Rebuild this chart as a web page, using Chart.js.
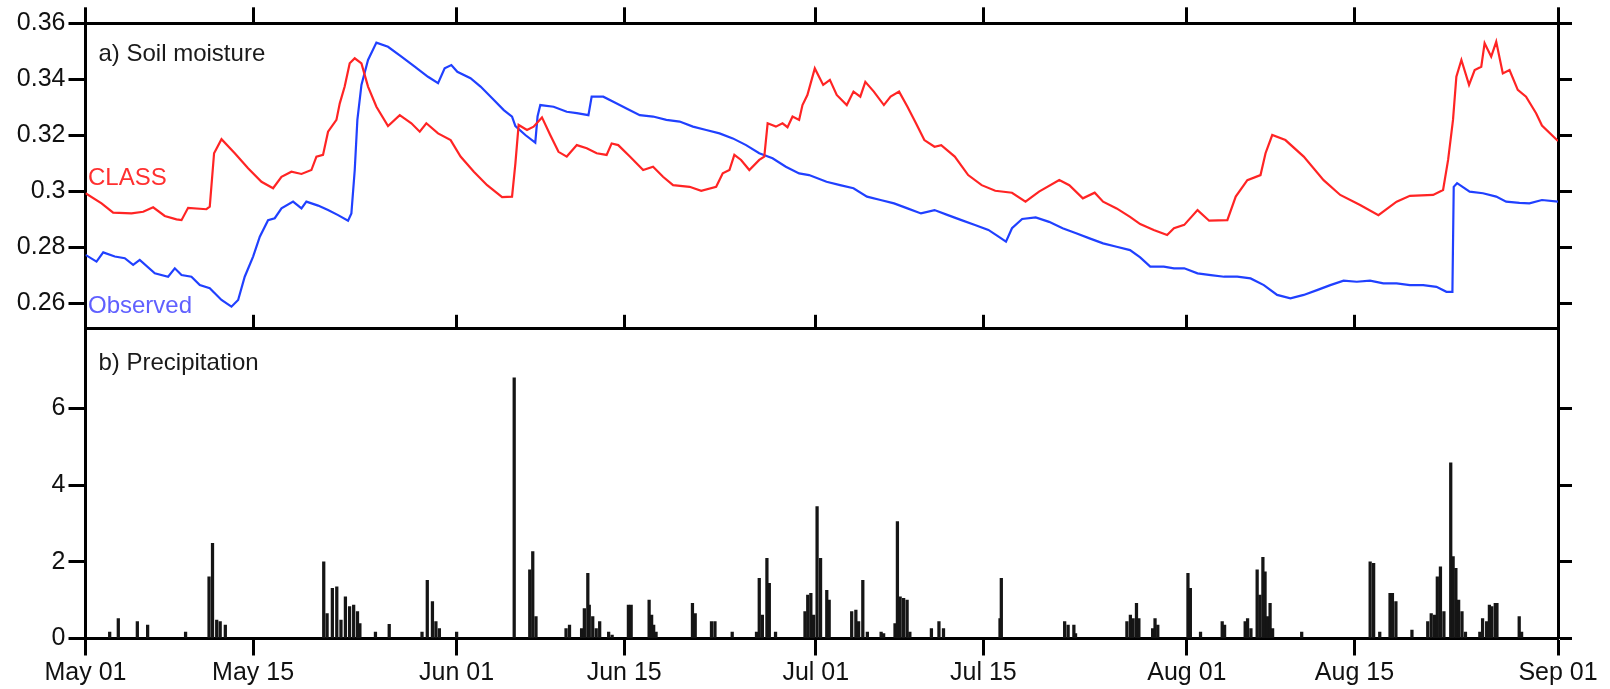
<!DOCTYPE html>
<html>
<head>
<meta charset="utf-8">
<title>Soil moisture and precipitation</title>
<script src="https://cdn.jsdelivr.net/npm/chart.js@4.4.1/dist/chart.umd.min.js"></script>
<style>
  html, body { margin: 0; padding: 0; background: #fff; }
  #wrap { position: relative; width: 1610px; height: 689px; }
  #wrap canvas { position: absolute; left: 0; top: 0; }
</style>
</head>
<body>
<div id="wrap">
  <canvas id="soilChart" width="1610" height="689"></canvas>
  <canvas id="precipChart" width="1610" height="689"></canvas>
</div>
<script>
// x values are days counted from May 01
const dateTickDays = [0, 14, 31, 45, 61, 75, 92, 106, 123];
const dateTickLabels = ["May 01", "May 15", "Jun 01", "Jun 15", "Jul 01", "Jul 15", "Aug 01", "Aug 15", "Sep 01"];

const soilTicks = [0.26, 0.28, 0.30, 0.32, 0.34, 0.36];
const soilTickLabels = ["0.26", "0.28", "0.3", "0.32", "0.34", "0.36"];
const precipTicks = [0, 2, 4, 6];
const precipTickLabels = ["0", "2", "4", "6"];

// a) Soil moisture, [day, value]
const classSoil = [
  [0,0.2993],[1.34,0.2957],[2.31,0.2924],[3.84,0.2921],[4.82,0.2927],[5.65,0.2943],[6.62,0.2912],[7.6,0.29],
  [8.02,0.2897],[8.57,0.2941],[10.1,0.2936],[10.38,0.2945],[10.74,0.3136],[11.36,0.3186],[12.47,0.3136],
  [13.58,0.3082],[14.7,0.3034],[15.67,0.3011],[16.37,0.3052],[17.2,0.307],[18.04,0.3062],[18.87,0.3076],
  [19.29,0.3124],[19.84,0.313],[20.26,0.3213],[20.96,0.3255],[21.24,0.3314],[21.65,0.3374],[22.07,0.3457],
  [22.49,0.3475],[23.05,0.3457],[23.6,0.3374],[24.3,0.3302],[25.27,0.3233],[26.25,0.3272],[27.22,0.3243],
  [27.92,0.3213],[28.47,0.3243],[29.45,0.3207],[30.5,0.3183],[31.33,0.3124],[32.44,0.307],[33.55,0.3022],
  [34.8,0.2979],[35.63,0.2981],[35.91,0.31],[36.18,0.3237],[36.88,0.3219],[37.43,0.3231],[38.13,0.3264],
  [38.82,0.3201],[39.51,0.3141],[40.2,0.3124],[41.04,0.3165],[41.87,0.3154],[42.7,0.3136],[43.53,0.313],
  [43.95,0.3171],[44.5,0.3165],[45.47,0.3124],[46.58,0.3076],[47.41,0.3088],[48.24,0.3052],[49.08,0.3022],
  [50.46,0.3016],[51.43,0.3002],[52.68,0.3016],[53.23,0.3064],[53.79,0.3076],[54.2,0.313],[54.76,0.3112],
  [55.45,0.3076],[56.28,0.3112],[56.7,0.3124],[56.98,0.3243],[57.67,0.3231],[58.22,0.3243],[58.64,0.3229],
  [59.06,0.3267],[59.61,0.3255],[59.89,0.3308],[60.3,0.3344],[60.92,0.3439],[61.62,0.338],[62.18,0.3398],
  [62.75,0.3344],[63.59,0.3308],[64.15,0.3356],[64.72,0.3338],[65.14,0.3391],[65.85,0.3356],[66.69,0.3308],
  [67.25,0.3338],[67.96,0.3356],[68.66,0.3302],[69.37,0.3243],[70.07,0.3183],[70.92,0.3159],[71.48,0.3165],
  [72.61,0.3124],[73.73,0.3058],[74.86,0.3022],[75.99,0.3002],[77.39,0.2995],[78.52,0.2963],[79.65,0.2999],
  [81.34,0.304],[82.18,0.3022],[83.31,0.2975],[84.3,0.2995],[85,0.2963],[86.13,0.2939],[87.25,0.2909],
  [88.1,0.2883],[89.23,0.2862],[90.35,0.2844],[90.92,0.2868],[91.78,0.288],[92.89,0.2933],[93.86,0.2895],
  [95.38,0.2897],[96.08,0.2981],[97.05,0.304],[98.15,0.3058],[98.57,0.3136],[99.13,0.3201],[100.23,0.3183],
  [101.76,0.3124],[103.42,0.304],[104.81,0.2987],[106.47,0.2951],[108,0.2915],[109.52,0.2963],[110.63,0.2984],
  [112.57,0.2987],[113.4,0.3005],[113.82,0.3112],[114.23,0.3255],[114.51,0.3409],[114.93,0.3469],[115.57,0.338],
  [116.04,0.3433],[116.59,0.3445],[116.87,0.3529],[117.42,0.3481],[117.84,0.3534],[118.39,0.3421],[118.95,0.3433],
  [119.64,0.3362],[120.33,0.3338],[121.17,0.3279],[121.66,0.3235],[123,0.318]
];

const observedSoil = [
  [0,0.2773],[0.92,0.2749],[1.48,0.2782],[2.45,0.2767],[3.28,0.2761],[3.98,0.2737],[4.53,0.2755],[5.79,0.2707],
  [6.9,0.2695],[7.46,0.2725],[8.02,0.2701],[8.85,0.2695],[9.55,0.2665],[10.38,0.2654],[11.36,0.2612],
  [12.19,0.2588],[12.75,0.2612],[13.3,0.2695],[14,0.2767],[14.56,0.2838],[15.25,0.2897],[15.81,0.2904],
  [16.37,0.2939],[17.34,0.2963],[18.04,0.2939],[18.45,0.2963],[19.43,0.2949],[20.26,0.2933],[21.1,0.2915],
  [21.93,0.2895],[22.21,0.2921],[22.49,0.3076],[22.71,0.3255],[23.05,0.338],[23.6,0.3469],[24.3,0.3531],
  [25.27,0.3516],[26.39,0.3481],[27.5,0.3445],[28.61,0.3409],[29.45,0.3386],[30,0.3439],[30.56,0.3451],
  [31.06,0.3427],[32.16,0.3404],[33,0.3374],[33.97,0.3332],[34.94,0.329],[35.63,0.3267],[35.91,0.3233],
  [36.74,0.3201],[37.57,0.3174],[37.76,0.3267],[37.99,0.3308],[39.1,0.3302],[40.2,0.3284],[41.04,0.3279],
  [42.01,0.3272],[42.28,0.3338],[43.25,0.3338],[44.09,0.332],[45.19,0.3296],[46.3,0.3272],[47.41,0.3267],
  [48.52,0.3255],[49.63,0.3249],[50.74,0.3231],[51.85,0.3219],[52.96,0.3207],[54.07,0.3189],[55.18,0.3165],
  [56.28,0.3136],[57.39,0.3118],[58.5,0.3088],[59.61,0.3064],[60.44,0.3058],[61.9,0.3034],[63.03,0.3022],
  [64.15,0.3011],[65.28,0.2981],[66.41,0.2969],[67.54,0.2957],[68.66,0.2939],[69.79,0.2921],[70.92,0.2933],
  [72.04,0.2915],[73.17,0.2897],[74.3,0.288],[75.42,0.2862],[76.27,0.2838],[76.89,0.282],[77.39,0.2868],
  [78.24,0.2901],[79.37,0.2907],[80.49,0.2891],[81.62,0.2868],[82.75,0.285],[83.87,0.2832],[85,0.2814],
  [86.13,0.2802],[87.25,0.279],[88.1,0.2764],[88.94,0.2731],[90.07,0.2731],[90.92,0.2725],[91.78,0.2725],
  [92.89,0.2707],[94,0.2701],[95.11,0.2695],[96.21,0.2695],[97.32,0.2689],[98.43,0.2665],[99.54,0.263],
  [100.65,0.2618],[101.76,0.263],[102.87,0.2647],[103.98,0.2665],[105.09,0.2681],[106.19,0.2677],[107.3,0.2681],
  [108.41,0.2671],[109.52,0.2671],[110.63,0.2665],[111.74,0.2665],[112.85,0.2659],[113.68,0.2641],[114.18,0.2641],
  [114.29,0.3016],[114.57,0.3029],[115.62,0.2999],[116.73,0.2993],[117.84,0.2981],[118.67,0.2963],[119.78,0.2959],
  [120.61,0.2957],[121.66,0.2969],[123,0.2963]
];

// b) Precipitation, [day, amount]
const precip = [
  [2.02,0.17],[2.74,0.52],[4.33,0.44],[5.19,0.35],[8.36,0.17],[10.32,1.61],[10.61,2.48],[10.96,0.48],
  [11.25,0.44],[11.68,0.35],[19.9,2.0],[20.18,0.65],[20.62,1.31],[20.99,1.35],[21.34,0.48],[21.71,1.09],
  [22.06,0.83],[22.4,0.87],[22.72,0.7],[22.92,0.39],[24.22,0.17],[25.37,0.37],[28.11,0.17],[28.55,1.52],
  [28.98,0.96],[29.27,0.44],[29.56,0.26],[31.0,0.17],[35.81,6.8],[37.11,1.79],[37.36,2.27],[37.63,0.57],
  [40.14,0.26],[40.43,0.35],[41.44,0.26],[41.67,0.78],[41.96,1.7],[42.08,0.87],[42.37,0.57],[42.66,0.26],
  [42.95,0.44],[43.7,0.17],[43.99,0.09],[45.35,0.87],[45.58,0.87],[47.08,1.0],[47.29,0.61],[47.46,0.35],
  [47.66,0.17],[50.7,0.92],[50.93,0.65],[52.29,0.44],[52.58,0.44],[54.02,0.17],[56.05,0.17],[56.28,1.57],
  [56.54,0.61],[56.92,2.09],[57.12,1.44],[57.64,0.17],[60.1,0.7],[60.33,1.13],[60.59,1.18],[60.82,0.61],
  [61.11,3.44],[61.4,2.09],[61.92,1.26],[62.12,1.0],[64.0,0.7],[64.35,0.74],[64.58,0.44],[64.93,1.52],
  [65.31,0.17],[66.46,0.17],[66.67,0.13],[67.62,0.39],[67.82,3.05],[68.05,1.09],[68.34,1.05],[68.63,1.0],
  [68.86,0.17],[70.66,0.26],[71.29,0.44],[71.67,0.26],[76.39,0.52],[76.5,1.57],[81.79,0.44],[82.08,0.35],
  [82.56,0.35],[82.7,0.13],[86.99,0.44],[87.28,0.61],[87.51,0.52],[87.79,0.92],[87.99,0.52],[89.14,0.26],
  [89.34,0.52],[89.57,0.35],[92.09,1.7],[92.29,1.31],[93.14,0.17],[94.95,0.44],[95.15,0.35],[96.87,0.44],
  [97.07,0.52],[97.35,0.26],[97.87,1.79],[98.1,1.13],[98.35,2.12],[98.53,1.74],[98.73,0.57],[98.95,0.92],
  [99.16,0.26],[101.59,0.17],[107.31,2.0],[107.6,1.96],[108.11,0.17],[108.97,1.18],[109.17,1.18],[109.46,0.96],
  [110.8,0.22],[112.12,0.44],[112.41,0.65],[112.69,0.61],[112.92,1.61],[113.18,1.87],[113.47,0.7],[114.04,4.58],
  [114.24,2.14],[114.47,1.83],[114.7,1.0],[114.98,0.7],[115.27,0.17],[116.47,0.17],[116.7,0.52],[117.04,0.44],
  [117.27,0.87],[117.47,0.83],[117.76,0.92],[117.9,0.92],[119.76,0.57],[119.96,0.17]
];

// page layout in pixels
const areaLeft = 85.5;
const areaRight = 1558;
const soilTop = 23.3;
const panelSplit = 328.8;
const precipBottom = 638.5;

Chart.defaults.font.family = '"Liberation Sans", Arial, Helvetica, sans-serif';
Chart.defaults.color = "#111";

const toXY = (pts) => pts.map((p) => ({ x: p[0], y: p[1] }));

const fixedTicks = (values) => (scale) => {
  scale.ticks = values.map((v) => ({ value: v }));
};

// frame axis: border plus outward tick marks, labels optional
const frameAxis = (position, tickValues, tickLength, size, labels) => ({
  type: "linear",
  position: position,
  offset: false,
  afterBuildTicks: fixedTicks(tickValues),
  afterFit: (scale) => {
    if (scale.isHorizontal()) scale.height = size;
    else scale.width = size;
  },
  grid: {
    display: true,
    offset: false,
    drawOnChartArea: false,
    drawTicks: true,
    tickLength: tickLength,
    tickWidth: 3,
    tickColor: "#000",
  },
  border: { display: true, width: 3, color: "#000" },
  ticks: labels
    ? {
        display: true,
        autoSkip: false,
        maxRotation: 0,
        padding: 3,
        font: { size: 25 },
        color: "#111",
        callback: (value, index) => labels[index],
      }
    : { display: false },
});

const panelText = {
  id: "panelText",
  afterDraw(chart, args, opts) {
    const ctx = chart.ctx;
    ctx.save();
    ctx.font = '24px "Liberation Sans", Arial, sans-serif';
    ctx.textBaseline = "alphabetic";
    opts.items.forEach((t) => {
      ctx.fillStyle = t.color;
      ctx.fillText(t.text, chart.chartArea.left + t.dx, t.y);
    });
    ctx.restore();
  },
};

const dayRange = { min: 0, max: 123 };

new Chart(document.getElementById("soilChart"), {
  type: "line",
  data: {
    datasets: [
      {
        label: "CLASS",
        data: toXY(classSoil),
        borderColor: "#ff2424",
        borderWidth: 2.2,
        pointRadius: 0,
        tension: 0,
        xAxisID: "xTop",
        yAxisID: "ySoil",
      },
      {
        label: "Observed",
        data: toXY(observedSoil),
        borderColor: "#2040ff",
        borderWidth: 2.2,
        pointRadius: 0,
        tension: 0,
        xAxisID: "xTop",
        yAxisID: "ySoil",
      },
    ],
  },
  options: {
    responsive: false,
    animation: false,
    layout: { padding: { left: 0, right: 0, top: 0, bottom: 689 - panelSplit } },
    plugins: {
      legend: { display: false },
      tooltip: { enabled: false },
      panelText: {
        items: [
          { text: "a) Soil moisture", dx: 13, y: 61, color: "#1a1a1a" },
          { text: "CLASS", dx: 2.5, y: 185, color: "#ff3030" },
          { text: "Observed", dx: 2.5, y: 313, color: "#6060ff" },
        ],
      },
    },
    scales: {
      xTop: Object.assign(frameAxis("top", dateTickDays, 16, soilTop, null), dayRange),
      ySoil: Object.assign(frameAxis("left", soilTicks, 17, areaLeft, soilTickLabels), {
        min: 0.2509,
        max: 0.36,
      }),
      ySoilRight: Object.assign(frameAxis("right", soilTicks, 14, 1610 - areaRight, null), {
        min: 0.2509,
        max: 0.36,
      }),
    },
  },
  plugins: [panelText],
});

new Chart(document.getElementById("precipChart"), {
  type: "bar",
  data: {
    datasets: [
      {
        label: "Precipitation",
        data: toXY(precip),
        backgroundColor: "#151515",
        barThickness: 2.6,
        xAxisID: "xDate",
        yAxisID: "yPrecip",
      },
    ],
  },
  options: {
    responsive: false,
    animation: false,
    layout: { padding: 0 },
    plugins: {
      legend: { display: false },
      tooltip: { enabled: false },
      panelText: {
        items: [{ text: "b) Precipitation", dx: 13, y: 370, color: "#1a1a1a" }],
      },
    },
    scales: {
      // the split line with its tick marks pointing into the soil panel
      xSplit: Object.assign(frameAxis("top", dateTickDays, 14, panelSplit, null), dayRange),
      xDate: Object.assign(frameAxis("bottom", dateTickDays, 17, 689 - precipBottom, dateTickLabels), dayRange),
      yPrecip: Object.assign(frameAxis("left", precipTicks, 17, areaLeft, precipTickLabels), {
        min: 0,
        max: 8.08,
      }),
      yPrecipRight: Object.assign(frameAxis("right", precipTicks, 14, 1610 - areaRight, null), {
        min: 0,
        max: 8.08,
      }),
    },
  },
  plugins: [panelText],
});
</script>
</body>
</html>
